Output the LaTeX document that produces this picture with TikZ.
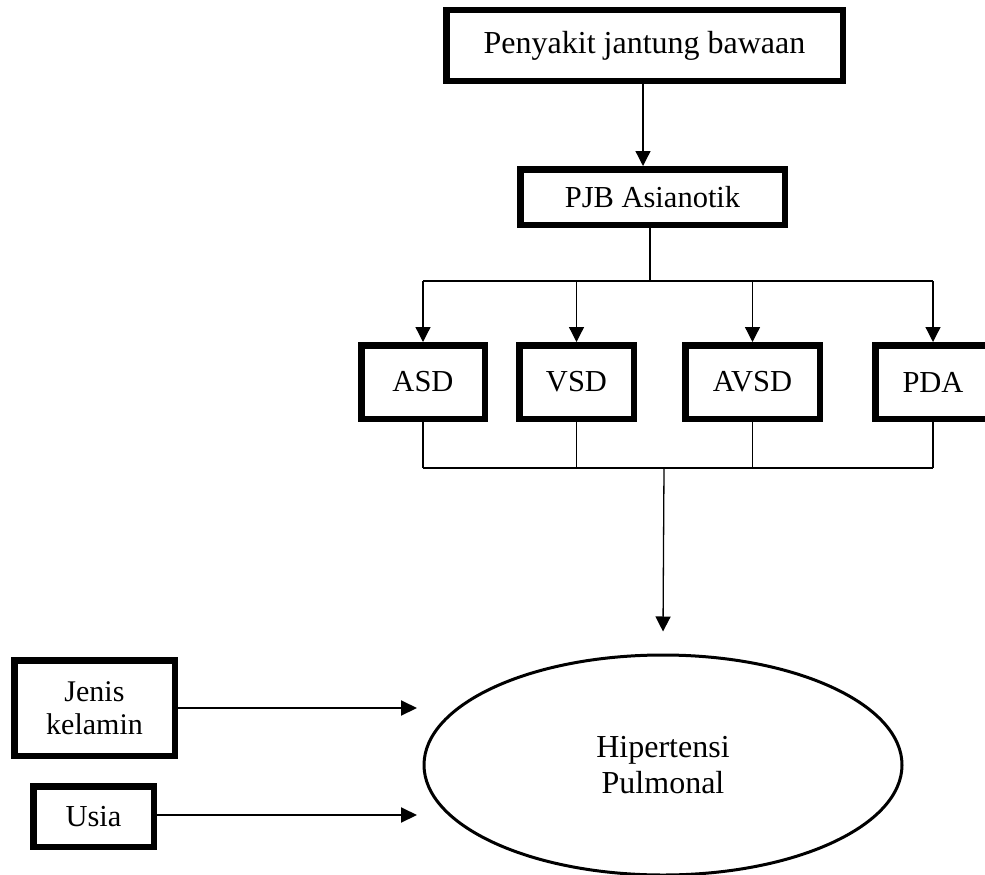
\documentclass[tikz,border=0pt]{standalone}
\usepackage{fontspec}
\setmainfont{Liberation Serif}
\usetikzlibrary{arrows.meta,shapes.geometric}
\tikzset{
  thickbox/.style={draw=black, line width=6.5pt, rectangle, inner sep=0pt, align=center,
    font=\fontsize{30.5}{34}\selectfont},
  conn/.style={draw=black, line width=1.3pt},
  arr/.style={conn, -{Triangle[length=15pt,width=15pt]}},
  arrthick/.style={draw=black, line width=2pt, -{Triangle[length=16pt,width=15pt]}},
}
\begin{document}
\begin{tikzpicture}[x=1pt,y=-1pt]
\useasboundingbox (0,0) rectangle (985,875);
\clip (0,0) rectangle (985,875);
\fill[white] (0,0) rectangle (985,875);

\node[thickbox, minimum width=396.5pt, minimum height=70.5pt, font=\fontsize{32}{36}\selectfont] (pjb) at (644.5,45.5) {Penyakit jantung bawaan};
\node[thickbox, minimum width=264.5pt, minimum height=55.5pt] (asi) at (652.5,197) {PJB Asianotik};

\node[thickbox, minimum width=123.5pt, minimum height=73.5pt] (asd) at (423,382) {ASD};
\node[thickbox, minimum width=114.5pt, minimum height=73.5pt] (vsd) at (576.5,382) {VSD};
\node[thickbox, minimum width=134.5pt, minimum height=73.5pt] (avsd) at (752.5,382) {AVSD};
\node[thickbox, minimum width=115.5pt, minimum height=73.5pt] (pda) at (933,382) {PDA};

\node[thickbox, minimum width=160.5pt, minimum height=95.5pt, font=\fontsize{30}{33}\selectfont] (jk) at (94.5,708) {Jenis\\kelamin};
\node[thickbox, minimum width=120.5pt, minimum height=60.5pt] (usia) at (93.5,816.5) {Usia};

\node[draw=black, line width=3pt, ellipse, minimum width=478pt, minimum height=220pt, inner sep=0pt,
  align=center, font=\fontsize{32}{36}\selectfont] (hp) at (663,765) {Hipertensi\\Pulmonal};

% connectors
\coordinate (bus1) at (650,281);
\coordinate (bus2) at (664,468);
\coordinate (tipx) at (417,0);
\coordinate (topx) at (643,0);

\draw[arr] (pjb.south -| topx) -- (asi.north -| topx);

\draw[conn] (asi.south -| bus1) -- (bus1);
\draw[conn] (bus1 -| asd) -- (bus1 -| pda);
\draw[arr] (bus1 -| asd) -- (asd.north);
\draw[arr] (bus1 -| vsd) -- (vsd.north);
\draw[arr] (bus1 -| avsd) -- (avsd.north);
\draw[arr] (bus1 -| pda) -- (pda.north);

\draw[conn] (asd.south) -- (bus2 -| asd);
\draw[conn] (vsd.south) -- (bus2 -| vsd);
\draw[conn] (avsd.south) -- (bus2 -| avsd);
\draw[conn] (pda.south) -- (bus2 -| pda);
\draw[conn] (bus2 -| asd) -- (bus2 -| pda);
\draw[arr] (bus2) -- ([yshift=22pt]hp.north);

\draw[arrthick] (jk.east) -- (jk.east -| tipx);
\draw[arrthick] ([yshift=1.5pt]usia.east) -- ([yshift=1.5pt]usia.east -| tipx);
\end{tikzpicture}
\end{document}
